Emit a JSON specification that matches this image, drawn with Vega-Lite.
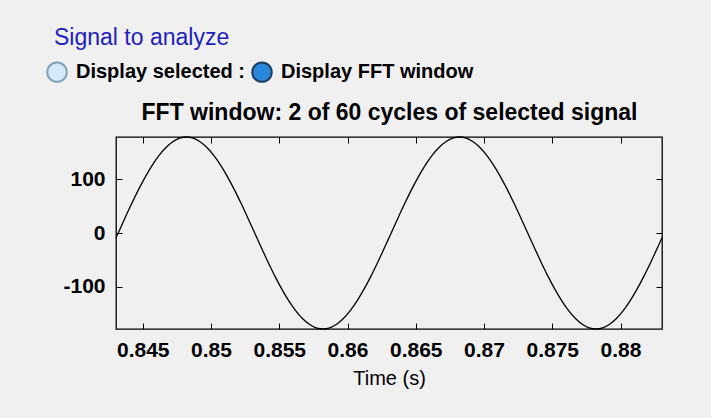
{
  "$schema": "https://vega.github.io/schema/vega-lite/v6.json",
  "width": 546,
  "height": 192,
  "autosize": {"type": "none"},
  "padding": {"left": 116, "top": 137, "right": 49, "bottom": 89},
  "background": "#f0f0f0",
  "title": {
    "text": "Signal to analyze",
    "anchor": "start",
    "frame": "group",
    "dx": -62,
    "offset": 11,
    "font": "Liberation Sans",
    "fontSize": 23,
    "fontWeight": "normal",
    "color": "#2020c0"
  },
  "data": {
    "values": [
      {"t": 0.84304, "v": -9.0},
      {"t": 0.8432, "v": 0},
      {"t": 0.8437, "v": 28.0},
      {"t": 0.8442, "v": 55.3},
      {"t": 0.8447, "v": 81.3},
      {"t": 0.8452, "v": 105.2},
      {"t": 0.8457, "v": 126.6},
      {"t": 0.8462, "v": 144.8},
      {"t": 0.8467, "v": 159.5},
      {"t": 0.8472, "v": 170.2},
      {"t": 0.8477, "v": 176.8},
      {"t": 0.8482, "v": 179},
      {"t": 0.8487, "v": 176.8},
      {"t": 0.8492, "v": 170.2},
      {"t": 0.8497, "v": 159.5},
      {"t": 0.8502, "v": 144.8},
      {"t": 0.8507, "v": 126.6},
      {"t": 0.8512, "v": 105.2},
      {"t": 0.8517, "v": 81.3},
      {"t": 0.8522, "v": 55.3},
      {"t": 0.8527, "v": 28.0},
      {"t": 0.8532, "v": 0},
      {"t": 0.8537, "v": -28.0},
      {"t": 0.8542, "v": -55.3},
      {"t": 0.8547, "v": -81.3},
      {"t": 0.8552, "v": -105.2},
      {"t": 0.8557, "v": -126.6},
      {"t": 0.8562, "v": -144.8},
      {"t": 0.8567, "v": -159.5},
      {"t": 0.8572, "v": -170.2},
      {"t": 0.8577, "v": -176.8},
      {"t": 0.8582, "v": -179},
      {"t": 0.8587, "v": -176.8},
      {"t": 0.8592, "v": -170.2},
      {"t": 0.8597, "v": -159.5},
      {"t": 0.8602, "v": -144.8},
      {"t": 0.8607, "v": -126.6},
      {"t": 0.8612, "v": -105.2},
      {"t": 0.8617, "v": -81.3},
      {"t": 0.8622, "v": -55.3},
      {"t": 0.8627, "v": -28.0},
      {"t": 0.8632, "v": 0},
      {"t": 0.8637, "v": 28.0},
      {"t": 0.8642, "v": 55.3},
      {"t": 0.8647, "v": 81.3},
      {"t": 0.8652, "v": 105.2},
      {"t": 0.8657, "v": 126.6},
      {"t": 0.8662, "v": 144.8},
      {"t": 0.8667, "v": 159.5},
      {"t": 0.8672, "v": 170.2},
      {"t": 0.8677, "v": 176.8},
      {"t": 0.8682, "v": 179},
      {"t": 0.8687, "v": 176.8},
      {"t": 0.8692, "v": 170.2},
      {"t": 0.8697, "v": 159.5},
      {"t": 0.8702, "v": 144.8},
      {"t": 0.8707, "v": 126.6},
      {"t": 0.8712, "v": 105.2},
      {"t": 0.8717, "v": 81.3},
      {"t": 0.8722, "v": 55.3},
      {"t": 0.8727, "v": 28.0},
      {"t": 0.8732, "v": 0},
      {"t": 0.8737, "v": -28.0},
      {"t": 0.8742, "v": -55.3},
      {"t": 0.8747, "v": -81.3},
      {"t": 0.8752, "v": -105.2},
      {"t": 0.8757, "v": -126.6},
      {"t": 0.8762, "v": -144.8},
      {"t": 0.8767, "v": -159.5},
      {"t": 0.8772, "v": -170.2},
      {"t": 0.8777, "v": -176.8},
      {"t": 0.8782, "v": -179},
      {"t": 0.8787, "v": -176.8},
      {"t": 0.8792, "v": -170.2},
      {"t": 0.8797, "v": -159.5},
      {"t": 0.8802, "v": -144.8},
      {"t": 0.8807, "v": -126.6},
      {"t": 0.8812, "v": -105.2},
      {"t": 0.8817, "v": -81.3},
      {"t": 0.8822, "v": -55.3},
      {"t": 0.8827, "v": -28.0},
      {"t": 0.88304, "v": -9.0}
    ]
  },
  "layer": [
    {
      "mark": {"type": "line", "color": "black", "strokeWidth": 1.3, "interpolate": "monotone"},
      "encoding": {
        "x": {
          "field": "t", "type": "quantitative",
          "scale": {"domain": [0.84304, 0.88304], "nice": false, "zero": false},
          "axis": {
            "orient": "bottom",
            "values": [0.845, 0.85, 0.855, 0.86, 0.865, 0.87, 0.875, 0.88],
            "format": ".3~f",
            "grid": false, "domain": false,
            "tickSize": -6, "tickColor": "black", "tickWidth": 1,
            "labelFont": "Liberation Sans", "labelFontSize": 21, "labelFontWeight": "bold", "labelColor": "black",
            "labelPadding": 16, "labelFlush": false, "labelOverlap": false,
            "title": "Time (s)",
            "titleFont": "Liberation Sans", "titleFontSize": 20, "titleFontWeight": "normal", "titleColor": "black",
            "titlePadding": 8
          }
        },
        "y": {
          "field": "v", "type": "quantitative",
          "scale": {"domain": [-179, 179], "nice": false, "zero": false},
          "axis": {
            "orient": "left",
            "values": [-100, 0, 100],
            "labelExpr": "replace(datum.label, '\u2212', '-')",
            "grid": false, "domain": false,
            "tickSize": -6, "tickColor": "black", "tickWidth": 1,
            "labelFont": "Liberation Sans", "labelFontSize": 21, "labelFontWeight": "bold", "labelColor": "black",
            "labelPadding": 17, "labelFlush": false, "labelOverlap": false,
            "title": null
          }
        }
      }
    },
    {
      "mark": {"type": "line", "opacity": 0},
      "encoding": {
        "x": {
          "field": "t", "type": "quantitative",
          "axis": {
            "orient": "top",
            "values": [0.845, 0.85, 0.855, 0.86, 0.865, 0.87, 0.875, 0.88],
            "labels": false, "grid": false, "domain": false,
            "tickSize": -6, "tickColor": "black", "tickWidth": 1,
            "title": "FFT window: 2 of 60 cycles of selected signal",
            "titleFont": "Liberation Sans", "titleFontSize": 23, "titleFontWeight": "bold", "titleColor": "black",
            "titlePadding": 12
          }
        },
        "y": {
          "field": "v", "type": "quantitative",
          "axis": {
            "orient": "right",
            "values": [-100, 0, 100],
            "labels": false, "grid": false, "domain": false,
            "tickSize": -6, "tickColor": "black", "tickWidth": 1,
            "title": null
          }
        }
      }
    },
    {
      "data": {"values": [{"option": "Display selected :"}, {"option": "Display FFT window"}]},
      "transform": [{"filter": "false"}],
      "mark": {"type": "point", "filled": true, "opacity": 1},
      "encoding": {
        "fill": {
          "field": "option", "type": "nominal",
          "scale": {"domain": ["Display selected :", "Display FFT window"], "range": ["#d4eaf9", "#2a88dc"]},
          "legend": {
            "orient": "none", "legendX": -70, "legendY": -76,
            "direction": "horizontal", "title": null,
            "symbolType": "circle", "symbolSize": 380, "symbolOpacity": 1,
            "symbolStrokeWidth": 2,
            "labelFont": "Liberation Sans", "labelFontSize": 20, "labelFontWeight": "bold", "labelColor": "black",
            "labelOffset": 8, "columnPadding": 3, "padding": 0, "labelLimit": 400
          }
        },
        "stroke": {
          "field": "option", "type": "nominal",
          "scale": {"domain": ["Display selected :", "Display FFT window"], "range": ["#86a0b8", "#1f3d5e"]},
          "legend": null
        }
      }
    }
  ],
  "resolve": {"axis": {"x": "independent", "y": "independent"}},
  "config": {
    "view": {"fill": "white", "stroke": "black", "strokeWidth": 1.3}
  }
}
